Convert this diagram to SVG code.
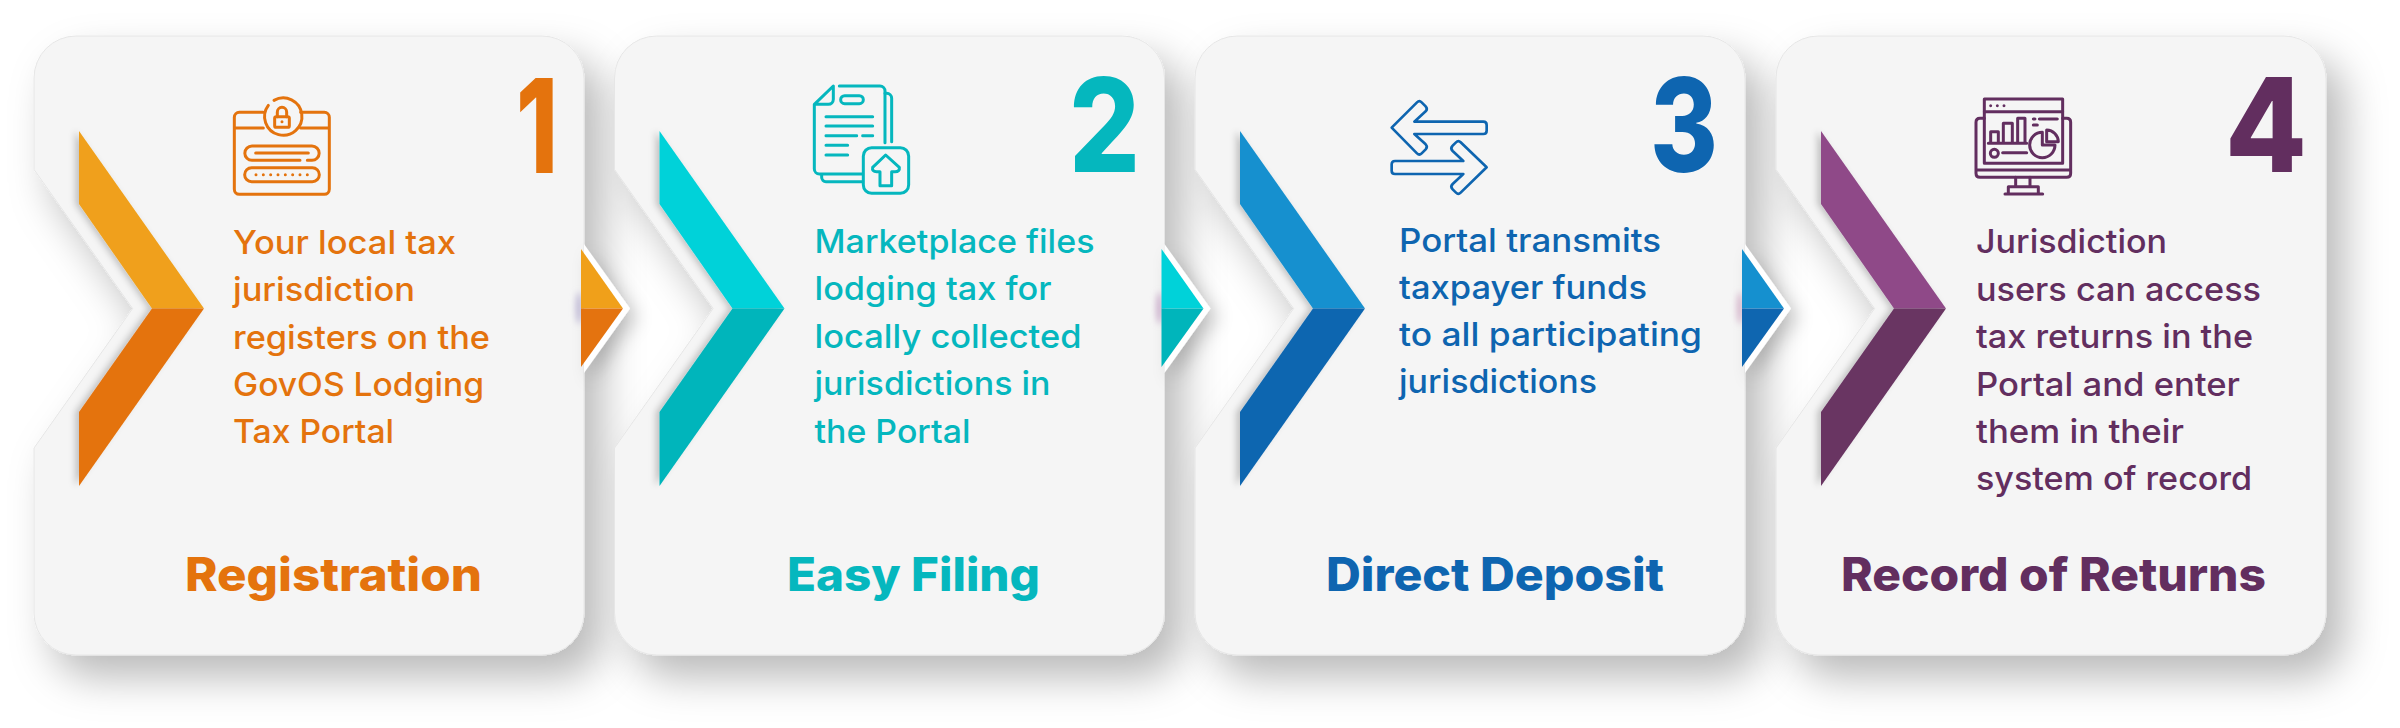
<svg xmlns="http://www.w3.org/2000/svg" width="2400" height="728" viewBox="0 0 2400 728">
<style>
text{font-family:"Inter","Liberation Sans",sans-serif}
.b{font-size:33px;font-weight:500}
.t{font-size:46px;font-weight:800}
.n{font-size:130px;font-weight:800}
.card{fill:#f5f5f5;stroke:#e6e6e6;stroke-width:1;filter:url(#cs)}
.ic{fill:none;stroke-width:9;stroke-linecap:round;stroke-linejoin:round}
.c1{fill:#e4730d}.c2{fill:#05b7be}.c3{fill:#0e65b0}.c4{fill:#622e5f}
.s1{stroke:#e4730d}.s2{stroke:#05b7be}.s3{stroke:#0e65b0}.s4{stroke:#622e5f}
.halo{fill:#fff;filter:url(#ts)}
</style>
<defs>
<filter id="cs" x="-15%" y="-15%" width="135%" height="135%">
<feGaussianBlur in="SourceAlpha" stdDeviation="20" result="b"/>
<feOffset in="b" dx="18" dy="22" result="o"/>
<feFlood flood-color="#000" flood-opacity=".27"/>
<feComposite in2="o" operator="in" result="s"/>
<feMerge><feMergeNode in="s"/><feMergeNode in="SourceGraphic"/></feMerge>
</filter>
<filter id="ts" x="-60%" y="-30%" width="250%" height="170%">
<feDropShadow dx="7" dy="8" stdDeviation="9" flood-color="#000" flood-opacity=".22"/>
</filter>
<filter id="chs" x="-15%" y="-10%" width="130%" height="120%">
<feDropShadow dx="-4" dy="0" stdDeviation="3" flood-color="#000" flood-opacity=".2"/>
</filter>
<filter id="bl" x="-200%" y="-50%" width="500%" height="200%"><feGaussianBlur stdDeviation="3"/></filter>
<path id="cu" d="M79 131L204 308.500H152L79 204Z"/>
<path id="cd" d="M79 486L204 308.500H152L79 412Z"/>
<path id="tu" d="M581 249L623 308.500H581Z"/>
<path id="td" d="M581 367L623 308.500H581Z"/>
<path id="th" d="M584 244L630 308.500L584 373Z"/>
</defs>
<rect width="2400" height="728" fill="#fff"/>

<g id="card-1">
<path class="card" d="M76 36H542A42 42 0 0 1 584 78V613A42 42 0 0 1 542 655H76A42 42 0 0 1 34 613V448L132.600 308.500L34 169.500V78A42 42 0 0 1 76 36Z"/>
<g filter="url(#chs)"><use href="#cu" fill="#f0a01a"/><use href="#cd" fill="#e4730f"/></g>
<g transform="translate(200 80) scale(.3333)" class="ic s1">
<path d="M190 97H118A15 15 0 0 0 103 112V328A15 15 0 0 0 118 343H373A15 15 0 0 0 388 328V112A15 15 0 0 0 373 97H302M105 144H190M302 144H386"/>
<path d="M222 61A56 56 0 1 1 205 76"/>
<rect x="224" y="110" width="44" height="32" rx="5"/><path d="M232 110V96A14 14 0 0 1 260 96V110M246 125V125"/>
<path d="M300 241H156A21 21 0 0 1 156 198H336A21 21 0 0 1 336 241H322M167 219H325"/>
<rect x="134" y="263" width="224" height="42" rx="21"/>
<path d="M168 284V284M190 284V284M212 284V284M234 284V284M256 284V284M278 284V284M300 284V284M322 284V284"/>
</g>
<text class="b c1"><tspan x="233" y="254" textLength="223" lengthAdjust="spacingAndGlyphs">Your local tax</tspan><tspan x="233" y="301" textLength="182" lengthAdjust="spacingAndGlyphs">jurisdiction</tspan><tspan x="233" y="349" textLength="257" lengthAdjust="spacingAndGlyphs">registers on the</tspan><tspan x="233" y="396" textLength="251" lengthAdjust="spacingAndGlyphs">GovOS Lodging</tspan><tspan x="233" y="443" textLength="161" lengthAdjust="spacingAndGlyphs">Tax Portal</tspan></text>
<text class="t c1" x="185" y="591" textLength="297" lengthAdjust="spacingAndGlyphs">Registration</text>
<text class="n c1" x="516" y="173" textLength="42" lengthAdjust="spacingAndGlyphs">1</text>
</g>

<g id="card-2">
<path class="card" transform="translate(580.500 0)" d="M76 36H542A42 42 0 0 1 584 78V613A42 42 0 0 1 542 655H76A42 42 0 0 1 34 613V448L132.600 308.500L34 169.500V78A42 42 0 0 1 76 36Z"/>
<g filter="url(#chs)" transform="translate(580.500 0)"><use href="#cu" fill="#00d2d9"/><use href="#cd" fill="#00b5bb"/></g>
<g transform="translate(780 70) scale(.3333)" class="ic s2">
<path d="M178 48H300A15 15 0 0 1 315 63V218M103 103V297A15 15 0 0 0 118 312H248M103 103L160 48V88A15 15 0 0 1 145 103Z"/>
<path d="M315 70H320A15 15 0 0 1 335 85V215M125 315V322A13 13 0 0 0 138 335H248"/>
<rect x="182" y="77" width="68" height="24" rx="12"/>
<path d="M138 140H278M138 168H278M138 197H230M248 197H278M138 226H203M138 255H203"/>
<rect x="250" y="233" width="136" height="137" rx="25"/>
<path d="M317 255L358 292Q360 305 345 305H335V347H300V305H290Q275 305 278 292Z"/>
</g>
<text class="b c2"><tspan x="814.500" y="253" textLength="280" lengthAdjust="spacingAndGlyphs">Marketplace files</tspan><tspan x="814.500" y="300" textLength="237" lengthAdjust="spacingAndGlyphs">lodging tax for</tspan><tspan x="814.500" y="348" textLength="267" lengthAdjust="spacingAndGlyphs">locally collected</tspan><tspan x="814.500" y="395" textLength="236" lengthAdjust="spacingAndGlyphs">jurisdictions in</tspan><tspan x="814.500" y="443" textLength="156" lengthAdjust="spacingAndGlyphs">the Portal</tspan></text>
<text class="t c2" x="787" y="591" textLength="253" lengthAdjust="spacingAndGlyphs">Easy Filing</text>
<text class="n c2" x="1069" y="172" textLength="71" lengthAdjust="spacingAndGlyphs">2</text>
</g>

<g id="card-3">
<path class="card" transform="translate(1161 0)" d="M76 36H542A42 42 0 0 1 584 78V613A42 42 0 0 1 542 655H76A42 42 0 0 1 34 613V448L132.600 308.500L34 169.500V78A42 42 0 0 1 76 36Z"/>
<g filter="url(#chs)" transform="translate(1161 0)"><use href="#cu" fill="#1590cf"/><use href="#cd" fill="#0f66b0"/></g>
<g transform="translate(1370 80) scale(.3333)" class="ic s3" style="stroke-width:8">
<path d="M65 143L141 67Q148 60 155 67L167 79Q174 87 167 94L133 125H340Q350 125 350 135V152Q350 162 340 162H133L167 193Q174 200 167 208L155 220Q148 227 141 220Z"/>
<path d="M350 262L272 187Q265 180 258 187L248 197Q240 205 248 213L280 243H75Q65 243 65 253V272Q65 282 75 282H280L248 312Q240 320 248 328L258 338Q265 345 272 338Z"/>
</g>
<text class="b c3"><tspan x="1399" y="252" textLength="262" lengthAdjust="spacingAndGlyphs">Portal transmits</tspan><tspan x="1399" y="299" textLength="248" lengthAdjust="spacingAndGlyphs">taxpayer funds</tspan><tspan x="1399" y="346" textLength="303" lengthAdjust="spacingAndGlyphs">to all participating</tspan><tspan x="1399" y="393" textLength="198" lengthAdjust="spacingAndGlyphs">jurisdictions</tspan></text>
<text class="t c3" x="1326" y="591" textLength="338" lengthAdjust="spacingAndGlyphs">Direct Deposit</text>
<text class="n c3" x="1650" y="172" textLength="68" lengthAdjust="spacingAndGlyphs">3</text>
</g>

<g id="card-4">
<path class="card" transform="translate(1742 0)" d="M76 36H542A42 42 0 0 1 584 78V613A42 42 0 0 1 542 655H76A42 42 0 0 1 34 613V448L132.600 308.500L34 169.500V78A42 42 0 0 1 76 36Z"/>
<g filter="url(#chs)" transform="translate(1742 0)"><use href="#cu" fill="#8f4a88"/><use href="#cd" fill="#693562"/></g>
<g transform="translate(1950 80) scale(.3333)" class="ic s4">
<rect x="103" y="57" width="235" height="193"/><path d="M103 95H338M122 77V77M142 77V77M162 77V77"/>
<path d="M103 115H90Q78 115 78 127V280Q78 292 90 292H350Q362 292 362 280V127Q362 115 350 115H338M78 270H362"/>
<path d="M197 292V320M240 292V320M175 342V320H265V342M165 342H278"/>
<path d="M115 190H230M122 190V155H145V190M160 190V130H187V190M203 190V115H225V190"/>
<circle cx="133" cy="220" r="12"/><path d="M158 218H230"/>
<path d="M277 157A38 38 0 1 0 315 195H277Z"/><path d="M290 150A36 36 0 0 1 325 185H290Z"/>
<path d="M250 117H255M268 117H322M250 135H262"/>
</g>
<text class="b c4"><tspan x="1976" y="253" textLength="191" lengthAdjust="spacingAndGlyphs">Jurisdiction</tspan><tspan x="1976" y="301" textLength="285" lengthAdjust="spacingAndGlyphs">users can access</tspan><tspan x="1976" y="348" textLength="277" lengthAdjust="spacingAndGlyphs">tax returns in the</tspan><tspan x="1976" y="396" textLength="264" lengthAdjust="spacingAndGlyphs">Portal and enter</tspan><tspan x="1976" y="443" textLength="208" lengthAdjust="spacingAndGlyphs">them in their</tspan><tspan x="1976" y="490" textLength="276" lengthAdjust="spacingAndGlyphs">system of record</tspan></text>
<text class="t c4" x="1841" y="591" textLength="425" lengthAdjust="spacingAndGlyphs">Record of Returns</text>
<text class="n c4" x="2225" y="172" textLength="82" lengthAdjust="spacingAndGlyphs">4</text>
</g>

<g id="connectors">
<g><use href="#th" class="halo"/><ellipse cx="579" cy="308" rx="3" ry="16" fill="#b9b2d2" filter="url(#bl)"/><use href="#tu" fill="#f0a01a"/><use href="#td" fill="#e4730f"/></g>
<g transform="translate(580.500 0)"><use href="#th" class="halo"/><ellipse cx="579" cy="308" rx="3" ry="16" fill="#c7a8c8" filter="url(#bl)"/><use href="#tu" fill="#00d2d9"/><use href="#td" fill="#00b5bb"/></g>
<g transform="translate(1161 0)"><use href="#th" class="halo"/><ellipse cx="579" cy="308" rx="3" ry="16" fill="#d3b0c8" filter="url(#bl)"/><use href="#tu" fill="#1590cf"/><use href="#td" fill="#0f66b0"/></g>
</g>
</svg>
